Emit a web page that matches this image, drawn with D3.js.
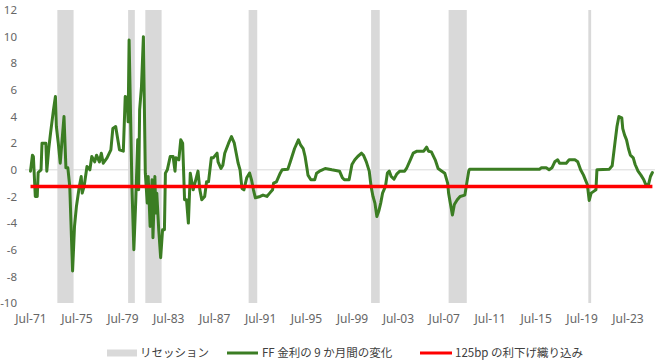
<!DOCTYPE html>
<html>
<head>
<meta charset="utf-8">
<script src="https://cdn.jsdelivr.net/npm/d3@7/dist/d3.min.js"></script>
<style>
  body { margin: 0; background: #fff; }
  svg { display: block; font-family: "Noto Sans", "Noto Sans CJK JP", sans-serif; }
</style>
</head>
<body>
<svg id="chart" width="655" height="360"></svg>
<script>
// ---- data ----
const dates = ["1971-07","1971-09","1971-10","1971-12","1972-02","1972-03","1972-06","1972-07","1972-11","1972-12",
"1973-02","1973-04","1973-07","1973-09","1973-10","1973-12","1974-02","1974-04","1974-06","1974-08",
"1974-10","1974-12","1975-03","1975-05","1975-07","1975-10","1975-12","1976-01","1976-03","1976-06",
"1976-09","1976-11","1977-02","1977-04","1977-07","1977-09","1977-11","1978-03","1978-07","1978-09",
"1978-12","1979-04","1979-08","1979-10","1979-12","1980-01","1980-02","1980-04","1980-05","1980-07",
"1980-09","1980-11","1980-12","1981-01","1981-03","1981-05","1981-07","1981-09","1981-10","1981-12",
"1982-02","1982-03","1982-05","1982-06","1982-07","1982-09","1982-11","1983-01","1983-03","1983-04",
"1983-06","1983-09","1983-12","1984-02","1984-03","1984-06","1984-08","1984-10","1984-12","1985-02",
"1985-04","1985-06","1985-09","1986-02","1986-04","1986-06","1986-09","1986-11","1987-01","1987-04",
"1987-06","1987-10","1987-11","1988-02","1988-04","1988-06","1988-10","1989-01","1989-04","1989-06",
"1989-08","1989-10","1989-12","1990-02","1990-05","1990-08","1990-10","1990-12","1991-02","1991-07",
"1991-10","1992-02","1992-05","1992-08","1992-09","1992-12","1993-04","1993-06","1993-12","1994-03",
"1994-07","1994-11","1995-01","1995-04","1995-06","1995-08","1995-09","1995-12","1996-04","1996-06",
"1996-09","1996-12","1997-03","1997-10","1998-06","1998-09","1998-11","1999-04","1999-07","1999-10",
"2000-01","2000-05","2000-07","2000-10","2001-01","2001-03","2001-05","2001-07","2001-09","2001-11",
"2002-01","2002-03","2002-06","2002-08","2002-10","2002-12","2003-03","2003-06","2003-09","2004-02",
"2004-04","2004-08","2004-11","2005-03","2005-10","2006-01","2006-03","2006-06","2006-10","2007-01",
"2007-05","2007-08","2007-11","2007-12","2008-02","2008-04","2008-06","2008-09","2008-12","2009-05",
"2009-07","2009-09","2009-10","2015-11","2016-01","2016-06","2016-09","2016-12","2017-03","2017-06",
"2017-08","2018-03","2018-06","2018-12","2019-03","2019-06","2019-09","2019-11","2020-01","2020-03",
"2020-05","2020-08","2020-10","2020-11","2021-12","2022-03","2022-06","2022-08","2022-10","2023-01",
"2023-02","2023-04","2023-06","2023-08","2023-10","2024-01","2024-03","2024-06","2024-09","2024-12",
"2025-02","2025-05","2025-07","2025-09"];
const ffChange9m = [-0.1,1.1,1.0,-2.0,-2.0,-0.2,0,2.0,2.0,-0.1,
1.6,2.8,4.5,5.5,3.25,2.0,0.5,2.25,4.0,0.15,
0.15,-1.25,-7.6,-4.25,-2.75,-1.25,-0.5,-1.75,-1.25,0.25,
0,1.0,0.6,1.1,0.6,1.25,0.5,0.9,1.5,3.1,
3.25,1.5,1.4,5.5,5.4,3.6,9.75,2.5,-1.25,-6.0,
-2.25,2.25,-1.5,4.5,6.25,10.0,-0.25,-2.5,-0.5,-4.25,
-0.75,-5.1,-0.5,-3.25,-1.75,-4.5,-6.6,-4.5,-4.5,-0.25,
0,1.0,1.0,-0.1,0.9,0.75,2.25,2.0,-2.25,-2.25,
-4.0,-0.25,-1.5,-0.1,-1.5,-2.25,-2.0,-0.9,-0.9,0.9,
0.9,1.25,0.6,0.1,0.35,1.25,2.0,2.5,2.0,1.25,
0.5,0,-1.4,-1.5,-0.6,-0.25,-0.75,-1.5,-2.1,-2.0,
-1.9,-2.0,-1.75,-1.5,-1.0,-0.9,-0.25,0,0.05,0.7,
1.6,2.25,1.9,1.6,1.0,0.1,-0.4,-0.75,-0.75,-0.25,
-0.1,0,0.1,0,-0.1,-0.6,-0.75,-0.75,0.4,0.75,
1.0,1.25,1.1,0.6,-0.1,-1.25,-2.0,-2.5,-3.5,-3.1,
-2.5,-1.75,-1.25,-0.25,-0.1,-0.5,-0.7,-0.3,-0.1,-0.1,
0.1,0.75,1.25,1.4,1.4,1.7,1.4,1.35,0.75,0.1,
-0.1,-0.25,-1.0,-1.75,-2.6,-3.4,-2.6,-2.25,-2.0,-1.9,
-1.0,-0.1,0.05,0.05,0.15,0.15,0,0.15,0.6,0.75,
0.5,0.5,0.75,0.75,0.6,0,-0.4,-0.75,-1.1,-2.3,
-1.75,-1.6,-1.5,0,0.05,0.3,2.1,3.25,4.0,3.9,
3.1,2.6,2.25,1.6,1.1,0.9,0.4,-0.1,-0.4,-0.75,
-1.1,-1.1,-0.5,-0.2];
const cutPriced = -1.25;
const recessionStarts = ["1973-11","1980-01","1981-07","1990-07","2001-03","2007-12","2020-02"];
const recessionEnds   = ["1975-03","1980-07","1982-11","1991-03","2001-11","2009-06","2020-04"];
const tickLabels = ["Jul-71","Jul-75","Jul-79","Jul-83","Jul-87","Jul-91","Jul-95","Jul-99","Jul-03","Jul-07","Jul-11","Jul-15","Jul-19","Jul-23"];
const yTicks = [-10,-8,-6,-4,-2,0,2,4,6,8,10,12];
const legendLabels = ["リセッション","FF 金利の 9 か月間の変化","125bp の利下げ織り込み"];

// ---- chart ----
const parse = d3.timeParse("%Y-%m");
const parseTick = d3.timeParse("%b-%y");
const svg = d3.select("#chart");

const x = d3.scaleTime()
  .domain([parse("1971-07"), parse("2025-09")])
  .range([30.5, 652.4]);
const y = d3.scaleLinear().domain([-10, 12]).range([303, 10]);

const green = "#3B7D23", red = "#FF0000", grey = "#D9D9D9";

// recession bars
const rec = recessionStarts.map((s, i) => ({s: parse(s), e: d3.timeMonth.offset(parse(recessionEnds[i]), 1)}));
svg.append("g").selectAll("rect").data(rec).join("rect")
  .attr("x", d => x(d.s))
  .attr("width", d => Math.max(1.5, x(d.e) - x(d.s)))
  .attr("y", y(12))
  .attr("height", y(-10) - y(12))
  .attr("fill", grey);

// zero line
svg.append("line")
  .attr("x1", 25).attr("x2", 655)
  .attr("y1", y(0)).attr("y2", y(0))
  .attr("stroke", grey).attr("stroke-width", 1);

// y axis labels
const yAxis = d3.axisLeft(y).tickValues(yTicks).tickSize(0).tickPadding(0).tickFormat(d => String(d));
const gy = svg.append("g").attr("transform", "translate(17,0)").call(yAxis);
gy.select(".domain").remove();
gy.selectAll("text").attr("fill", "#666").style("font-size", "11.5px").style("font-family", "'Noto Sans', sans-serif");

// x axis labels
const xAxis = d3.axisBottom(x)
  .tickValues(tickLabels.map(t => parseTick(t)))
  .tickSize(0).tickPadding(0)
  .tickFormat(d3.timeFormat("%b-%y"));
const gx = svg.append("g").attr("transform", "translate(0,314)").call(xAxis);
gx.select(".domain").remove();
gx.selectAll("text").attr("fill", "#666").style("font-size", "12px").style("font-family", "'Noto Sans', sans-serif");

// data line
const pts = dates.map((d, i) => ({d: parse(d), v: ffChange9m[i]}));
svg.append("path").datum(pts)
  .attr("fill", "none").attr("stroke", green).attr("stroke-width", 3)
  .attr("stroke-linejoin", "round").attr("stroke-linecap", "round")
  .attr("d", d3.line().x(p => x(p.d)).y(p => y(p.v)));

// 125bp line
svg.append("line")
  .attr("x1", x.range()[0]).attr("x2", x.range()[1])
  .attr("y1", y(cutPriced)).attr("y2", y(cutPriced))
  .attr("stroke", red).attr("stroke-width", 3.5);

// legend
const lg = svg.append("g");
const ly = 353;
lg.append("rect").attr("x", 107).attr("y", ly - 3.5).attr("width", 30).attr("height", 7).attr("fill", grey);
lg.append("text").attr("x", 140).attr("y", ly).attr("dy", "0.36em").text(legendLabels[0]);
lg.append("line").attr("x1", 227).attr("x2", 258).attr("y1", ly).attr("y2", ly).attr("stroke", green).attr("stroke-width", 3);
lg.append("text").attr("x", 262).attr("y", ly).attr("dy", "0.36em").text(legendLabels[1]);
lg.append("line").attr("x1", 420).attr("x2", 452).attr("y1", ly).attr("y2", ly).attr("stroke", red).attr("stroke-width", 3);
lg.append("text").attr("x", 455).attr("y", ly).attr("dy", "0.36em").text(legendLabels[2]);
lg.selectAll("text").attr("fill", "#404040").style("font-size", "11.5px")
  .style("font-family", "'Noto Sans CJK JP', 'Noto Sans', sans-serif");
</script>
</body>
</html>
